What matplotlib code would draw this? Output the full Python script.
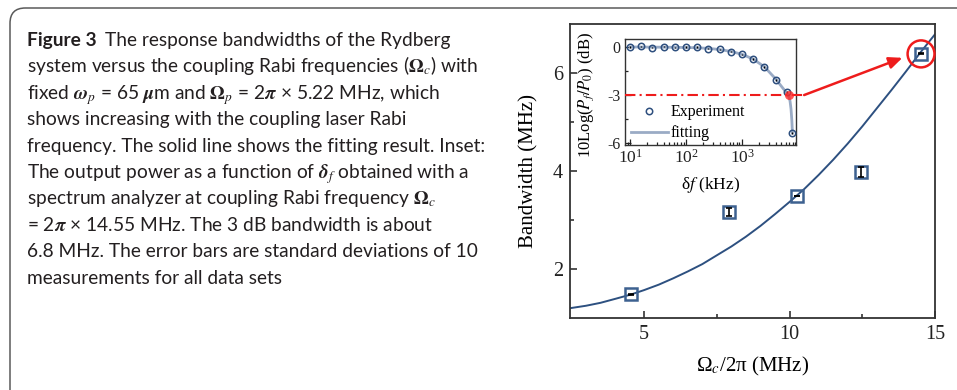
import matplotlib
matplotlib.use("Agg")
import matplotlib.pyplot as plt
from matplotlib.patches import FancyBboxPatch, Ellipse
from matplotlib.ticker import FixedLocator, LogLocator, NullFormatter, FixedFormatter

plt.rcParams['font.family'] = ['Liberation Serif', 'DejaVu Serif']
plt.rcParams['mathtext.fontset'] = 'stix'
plt.rcParams['axes.unicode_minus'] = False

# ---------------- data ----------------
coupling_rabi = [4.55, 7.9, 10.27, 12.45, 14.52]          # MHz
bandwidth = [1.48, 3.17, 3.49, 3.98, 6.39]                # MHz
bandwidth_err = [0.01, 0.08, 0.01, 0.11, 0.01]

fit_x = [2.45, 3.0, 3.5, 4.0, 4.55, 5.0, 5.5, 6.0, 6.5, 7.0, 7.5, 8.0, 8.5, 9.0,
         9.5, 10.0, 10.5, 11.0, 11.5, 12.0, 12.5, 13.0, 13.5, 14.0, 14.5, 15.0]
fit_y = [1.20, 1.25, 1.31, 1.39, 1.48, 1.57, 1.68, 1.81, 1.95, 2.10, 2.28, 2.46,
         2.66, 2.88, 3.12, 3.37, 3.63, 3.92, 4.23, 4.56, 4.91, 5.28, 5.65, 6.03,
         6.42, 6.79]

inset_f = [10, 15.8, 25.1, 39.8, 63.1, 100, 158, 251, 398, 631, 1000, 1585,
           2512, 3981, 6310, 7943]                           # kHz
inset_db = [0.0, 0.04, -0.04, 0.02, -0.02, 0.0, 0.0, -0.11, -0.14, -0.29, -0.46,
            -0.75, -1.26, -2.07, -2.82, -5.4]
inset_err = [0.04] * 16

inset_fit_f = [10, 25.1, 63.1, 158, 251, 398, 631, 1000, 1585, 2512, 3981, 5000,
               6000, 6800, 7200, 7500, 7750, 7943]
inset_fit_db = [0.0, -0.01, -0.02, -0.05, -0.09, -0.16, -0.28, -0.46, -0.76,
                -1.25, -2.0, -2.45, -2.8, -3.05, -3.4, -3.9, -4.6, -5.4]

bw_point_khz = 6800
bw_point_db = -3

caption_lines = [
    "The response bandwidths of the Rydberg",
    r"system versus the coupling Rabi frequencies ($\boldsymbol{\Omega}_c$) with",
    r"fixed $\boldsymbol{\omega}_p$ = 65 $\boldsymbol{\mu}$m and $\boldsymbol{\Omega}_p$ = 2$\boldsymbol{\pi}$ × 5.22 MHz, which",
    "shows increasing with the coupling laser Rabi",
    "frequency. The solid line shows the fitting result. Inset:",
    r"The output power as a function of $\boldsymbol{\delta}_f$ obtained with a",
    r"spectrum analyzer at coupling Rabi frequency $\boldsymbol{\Omega}_c$",
    r"= 2$\boldsymbol{\pi}$ × 14.55 MHz. The 3 dB bandwidth is about",
    "6.8 MHz. The error bars are standard deviations of 10",
    "measurements for all data sets",
]

W, H = 957, 390
fig = plt.figure(figsize=(W / 100, H / 100), dpi=100)

# rounded frame
frame = FancyBboxPatch((10 / W, -40 / H), 1000 / W, (H - 8 + 40) / H,
                       boxstyle="round,pad=0,rounding_size=0.016",
                       transform=fig.transFigure, fill=False,
                       edgecolor='#5a5a5a', linewidth=1.1, mutation_aspect=W / H)
fig.patches.append(frame)

# ---------------- caption ----------------
cap_font = ['Lato', 'DejaVu Sans']
renderer = fig.canvas.get_renderer()
probe = fig.text(0, 0, caption_lines[4], family=cap_font, fontsize=12)
w12 = probe.get_window_extent(renderer).width
probe.remove()
cap_size = 12 * 457 / w12

x0 = 27
base0 = 46
step = 26.4
bold = fig.text(x0 / W, 1 - base0 / H, "Figure 3", family=cap_font, fontsize=cap_size,
                fontweight='bold', va='baseline', ha='left', color='#231f20')
bw = bold.get_window_extent(renderer).width
for i, line in enumerate(caption_lines):
    xx = x0 + (bw + 0.6 * cap_size if i == 0 else 0)
    fig.text(xx / W, 1 - (base0 + i * step) / H, line, family=cap_font,
             fontsize=cap_size, va='baseline', ha='left', color='#231f20')

# ---------------- main axes ----------------
ax = fig.add_axes([570 / W, 1 - 318 / H, 365 / W, 294 / H])
ax.plot(fit_x, fit_y, color='#2d5080', lw=1.4, zorder=2)
ax.errorbar(coupling_rabi, bandwidth, yerr=bandwidth_err, fmt='none', ecolor='black',
            elinewidth=1.2, capsize=2.2, capthick=1.2, zorder=4)
ax.plot(coupling_rabi, bandwidth, ls='none', marker='s', ms=8.5, mfc='none',
        mec='#3d6190', mew=1.8, zorder=3)
ax.set_xlim(2.45, 15)
ax.set_ylim(1.0, 7.0)
ax.xaxis.set_major_locator(FixedLocator([5, 10, 15]))
ax.xaxis.set_minor_locator(FixedLocator([7.5, 12.5]))
ax.yaxis.set_major_locator(FixedLocator([2, 4, 6]))
ax.yaxis.set_minor_locator(FixedLocator([3, 5]))
ax.tick_params(which='both', direction='in', width=1.1, colors='#222222', labelsize=14.5)
ax.tick_params(which='major', length=5, pad=5)
ax.tick_params(which='minor', length=3)
for s in ax.spines.values():
    s.set_linewidth(1.3)
    s.set_color('#333333')
ax.set_xlabel("Ω$_c$/2π (MHz)", fontsize=15)
ax.set_ylabel("Bandwidth (MHz)", fontsize=15)
ax.xaxis.set_label_coords(0.5, -0.125)
ax.yaxis.set_label_coords(-0.085, 0.5)

# red circle and arrow
ax.add_patch(Ellipse((coupling_rabi[-1], bandwidth[-1]), 27 / 29.2, 27 / 49,
                     fill=False, edgecolor='#ee1c1c', lw=1.8, clip_on=False, zorder=5))
ax.annotate("", xy=(13.88, 6.31), xytext=(10.5, 5.55),
            arrowprops=dict(arrowstyle='-|>,head_length=0.8,head_width=0.35',
                            color='#ee1c1c', lw=1.8, shrinkA=0, shrinkB=0),
            annotation_clip=False, zorder=5)

# ---------------- inset ----------------
ins = fig.add_axes([625 / W, 1 - 145 / H, 171 / W, 106 / H])
ins.set_xscale('log')
ins.plot(inset_fit_f, inset_fit_db, color='#9aabc5', lw=2.0, zorder=2, label='fitting')
ins.errorbar(inset_f, inset_db, yerr=inset_err, fmt='none', ecolor='black',
             elinewidth=1.0, capsize=0, zorder=3)
ins.plot(inset_f, inset_db, ls='none', marker='o', ms=4.6, mfc='none',
         mec='#2e4f7e', mew=1.1, zorder=4, label='Experiment')
ins.plot([8.1, 13500], [bw_point_db, bw_point_db], color='#ee1c1c', lw=1.5,
         ls=(0, (5, 2, 1, 2)), clip_on=False, zorder=5)
ins.plot([bw_point_khz], [bw_point_db], marker='o', ms=6.5, color='#ff2a2a',
         alpha=0.8, mec='none', zorder=6)
ins.set_xlim(8.1, 9200)
ins.set_ylim(-6.15, 0.5)
ins.yaxis.set_major_locator(FixedLocator([0, -3, -6]))
ins.yaxis.set_major_formatter(FixedFormatter(['0', '-3', '-6']))
ins.yaxis.set_minor_locator(FixedLocator([-1.5, -4.5]))
ins.xaxis.set_major_locator(FixedLocator([10, 100, 1000]))
ins.xaxis.set_major_formatter(FixedFormatter([r'$\mathdefault{10^1}$', r'$\mathdefault{10^2}$',
                                              r'$\mathdefault{10^3}$']))
ins.xaxis.set_minor_locator(LogLocator(base=10, subs=range(2, 10)))
ins.xaxis.set_minor_formatter(NullFormatter())
ins.tick_params(which='both', direction='in', width=0.9, colors='#222222')
ins.tick_params(axis='x', which='major', length=4, labelsize=12.5, pad=3)
ins.tick_params(axis='y', which='major', length=4, labelsize=11.5, pad=3)
ins.tick_params(which='minor', length=2.5)
for s in ins.spines.values():
    s.set_linewidth(1.0)
    s.set_color('#333333')
ins.set_xlabel("δ$f$ (kHz)", fontsize=12.5)
ins.set_ylabel("10Log($P_f/P_0$) (dB)", fontsize=12)
ins.xaxis.set_label_coords(0.5, -0.28)
ins.yaxis.set_label_coords(-0.17, 0.47)
h, l = ins.get_legend_handles_labels()
ins.legend([h[1], h[0]], [l[1], l[0]], loc='lower left', bbox_to_anchor=(-0.03, -0.07),
           frameon=False, fontsize=11.5, handlelength=2.3, handletextpad=0.2,
           labelspacing=0.3, borderpad=0.2)

fig.savefig("out.png", dpi=100)
